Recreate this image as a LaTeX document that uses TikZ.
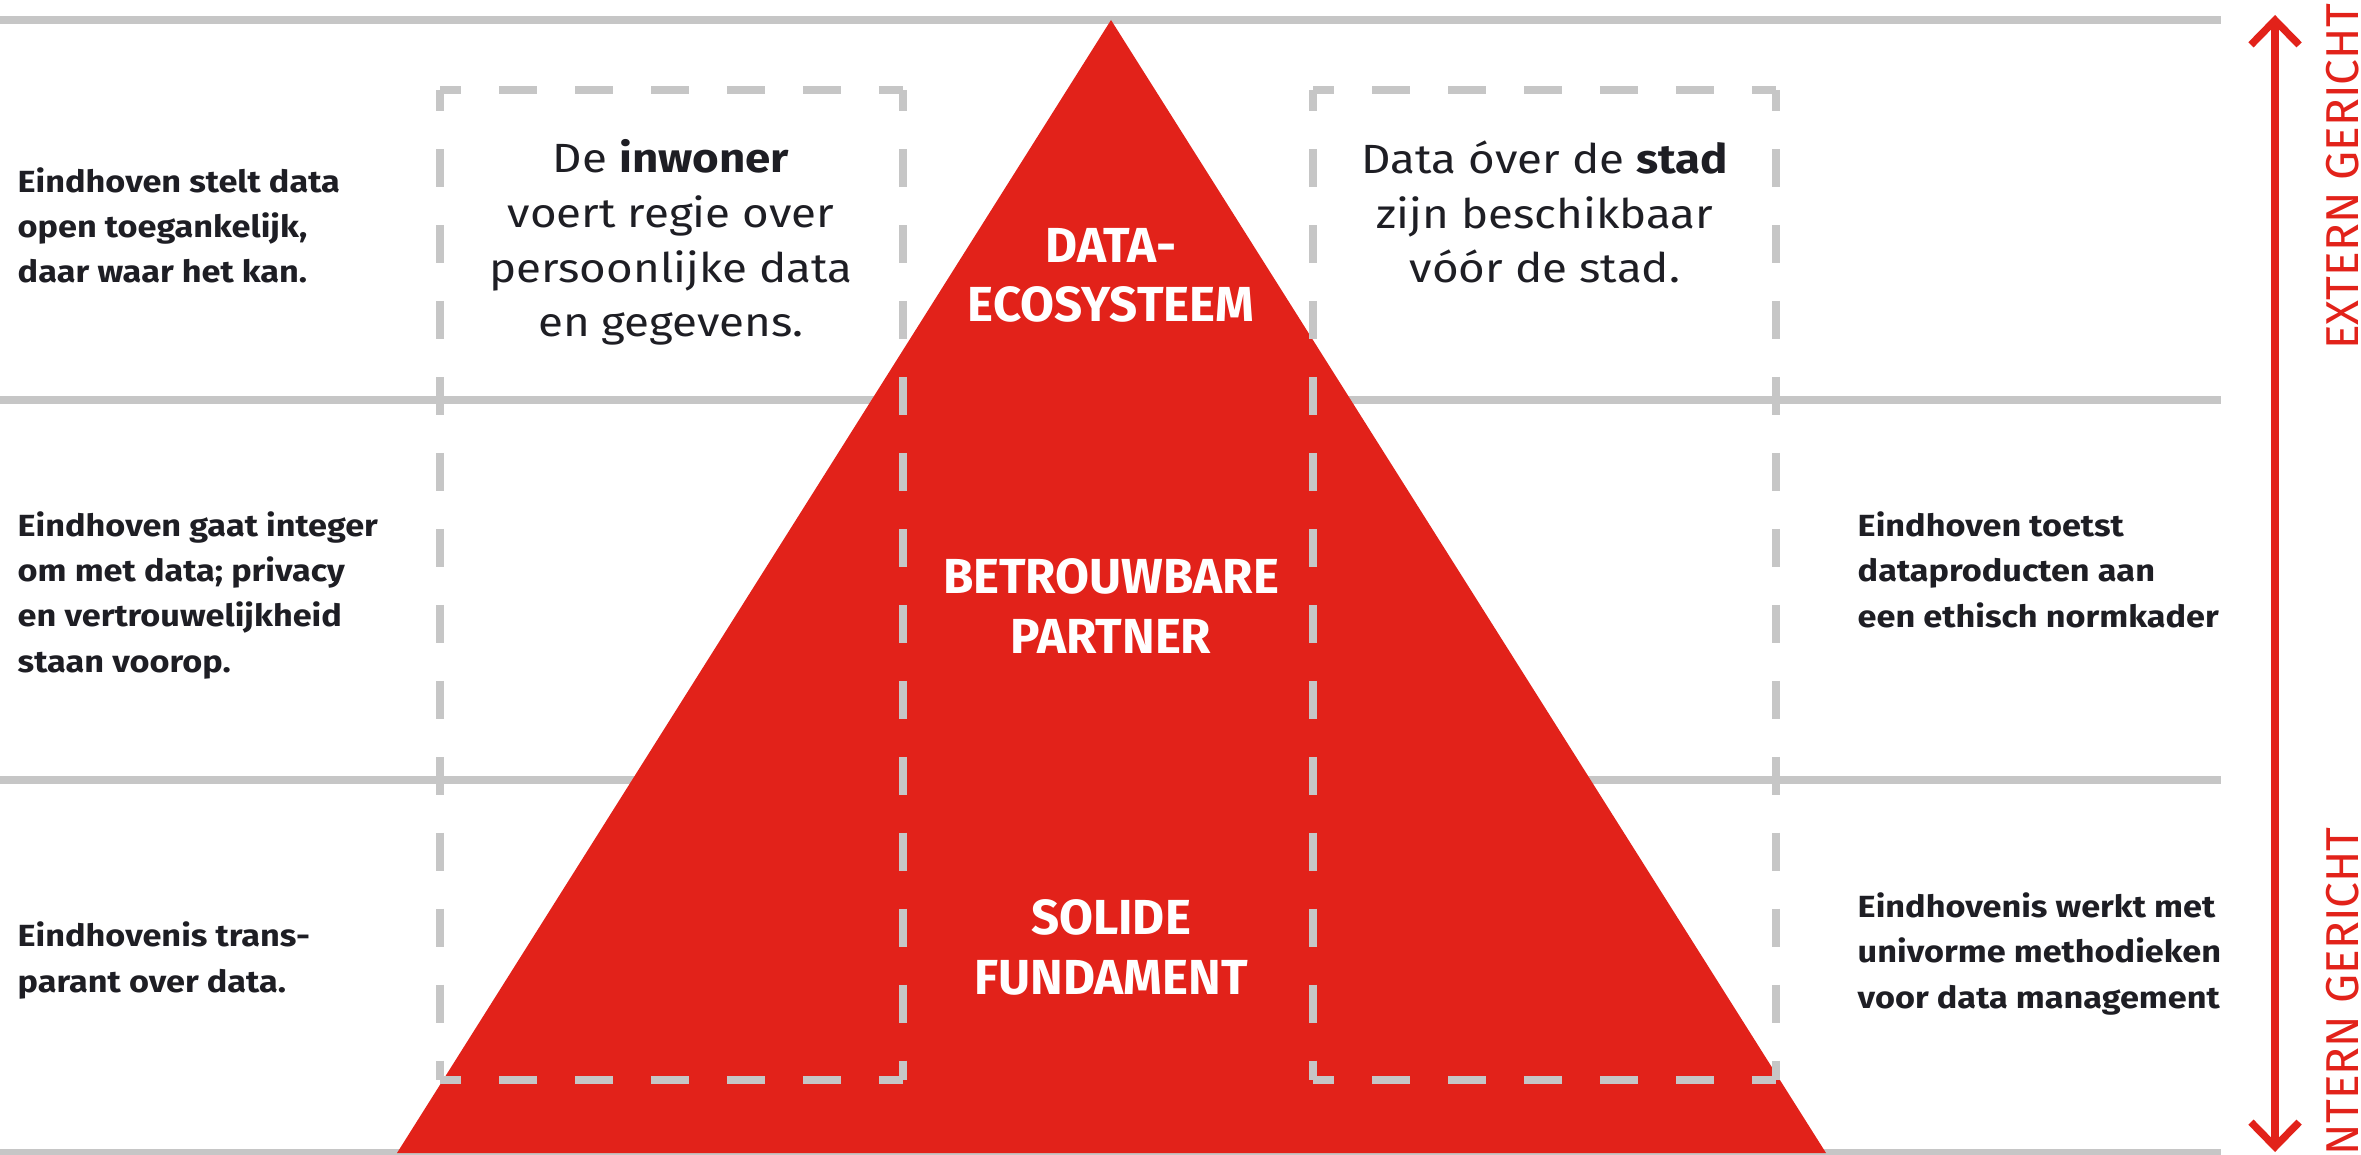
\documentclass[tikz,border=0pt]{standalone}
\usepackage{fontspec}
\setmainfont{Fira Sans}
\newfontfamily\bodyfont[FakeStretch=1.12]{Fira Sans}
\usetikzlibrary{arrows.meta}
\definecolor{ehvred}{RGB}{226,34,26}
\definecolor{linegray}{RGB}{198,198,198}
\definecolor{inkdark}{RGB}{30,30,36}

\begin{document}
\begin{tikzpicture}[x=0.01cm, y=-0.01cm,
    rule/.style={draw=linegray, line width=2pt},
    boxline/.style={draw=linegray, line width=2.1pt, dash pattern=on 10.8pt off 10.8pt, dash phase=4.8pt},
    note/.style={anchor=base west, align=left, inner sep=0pt, text=inkdark, font=\bodyfont\bfseries\fontsize{8.7}{12.8}\selectfont},
    claim/.style={anchor=base, align=center, inner sep=0pt, text=inkdark, font=\bodyfont\fontsize{11.6}{15.6}\selectfont},
    tier/.style={anchor=base, align=center, inner sep=0pt, text=white, font=\bfseries\fontsize{14}{17}\selectfont},
    sidelabel/.style={anchor=base, rotate=90, inner sep=0pt, text=ehvred, font=\fontsize{13.1}{15}\selectfont},
    reach/.style={draw=ehvred, line width=2.1pt, {Straight Barb[length=7pt, width=13.7pt]}-{Straight Barb[length=7pt, width=13.7pt]}}
]
    \useasboundingbox (0,0) rectangle (2361,1155);

    % Horizontal layer rules
    \draw[rule] (0,20) -- (2221,20);
    \draw[rule] (0,400) -- (2221,400);
    \draw[rule] (0,780) -- (2221,780);
    \draw[rule] (0,1153) -- (2221,1153);

    % Pyramid
    \fill[ehvred] (1111,20) -- (1826,1153) -- (397,1153) -- cycle;

    % Dashed boxes
    \draw[boxline] (440,90) -- (903,90) (903,90) -- (903,1080) (440,1080) -- (903,1080) (440,90) -- (440,1080);
    \draw[boxline] (1313,90) -- (1776,90) (1776,90) -- (1776,1080) (1313,1080) -- (1776,1080) (1313,90) -- (1313,1080);

    % Pyramid levels (placed at the baseline of the last line)
    \node[tier] (ecosystem) at (1111,322) {DATA-\\ECOSYSTEEM};
    \node[tier] (partner) at (1111,653) {BETROUWBARE\\PARTNER};
    \node[tier] (foundation) at (1111,994) {SOLIDE\\FUNDAMENT};

    % Texts in the boxes
    \node[claim] (resident) at (671,337) {De \textbf{inwoner}\\voert regie over\\persoonlijke data\\en gegevens.};
    \node[claim] (city) at (1545,283) {Data óver de \textbf{stad}\\zijn beschikbaar\\vóór de stad.};

    % Left column
    \node[note] (open) at (17,283) {Eindhoven stelt data\\open toegankelijk,\\daar waar het kan.};
    \node[note] (integer) at (17,672) {Eindhoven gaat integer\\om met data; privacy\\en vertrouwelijkheid\\staan voorop.};
    \node[note] (transparent) at (17,992) {Eindhovenis trans-\\parant over data.};

    % Right column
    \node[note] (ethics) at (1857,627) {Eindhoven toetst\\dataproducten aan\\een ethisch normkader};
    \node[note] (methods) at (1857,1008) {Eindhovenis werkt met\\univorme methodieken\\voor data management};

    % Extern / intern axis
    \coordinate (extern) at (2275,15);
    \coordinate (intern) at (2275,1152);
    \draw[reach] (intern) -- (extern);
    \node[sidelabel] (externlabel) at (2358,177) {EXTERN GERICHT};
    \node[sidelabel] (internlabel) at (2358,998) {INTERN GERICHT};
\end{tikzpicture}
\end{document}
